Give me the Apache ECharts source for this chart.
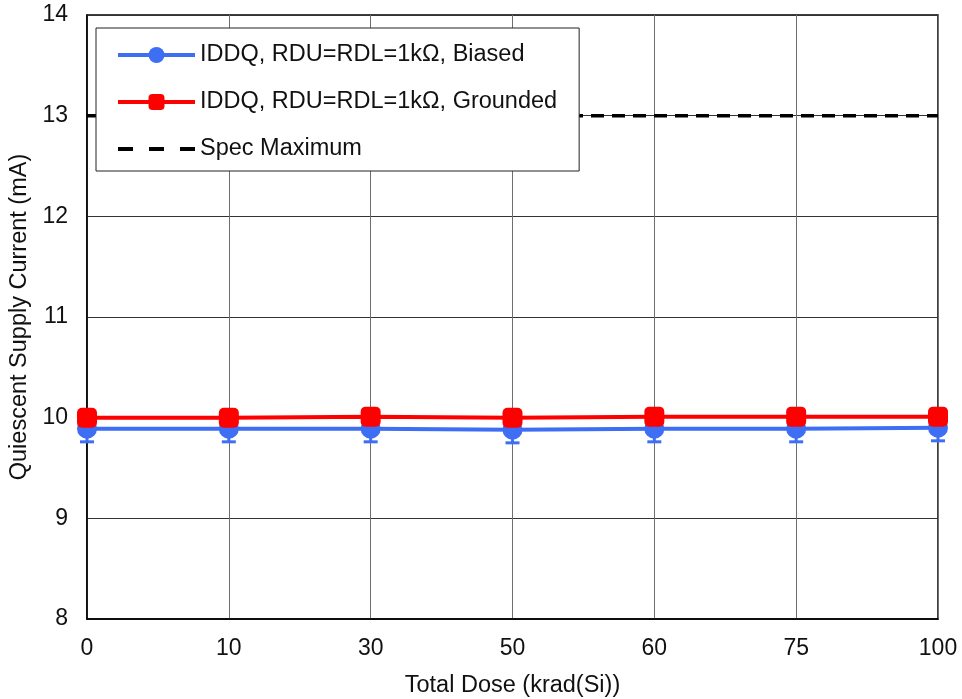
<!DOCTYPE html>
<html>
<head>
<meta charset="utf-8">
<script src="https://cdn.jsdelivr.net/npm/echarts@6/dist/echarts.min.js"></script>
<style>
  html, body { margin: 0; padding: 0; background: #fff; }
  #chart { width: 962px; height: 699px; }
</style>
</head>
<body>
<div id="chart"></div>
<script>
// Total dose steps (krad(Si)), plotted as evenly spaced categories
const doses = ['0', '10', '30', '50', '60', '75', '100'];
// Quiescent supply current (mA)
const biased = [9.89, 9.89, 9.89, 9.88, 9.89, 9.89, 9.90];
const grounded = [10.00, 10.00, 10.01, 10.00, 10.01, 10.01, 10.01];
// Spread of the biased units (± mA)
const biasedErr = [0.13, 0.13, 0.13, 0.13, 0.13, 0.13, 0.13];
// Datasheet limit (mA)
const specMax = 13;

const names = [
  'IDDQ, RDU=RDL=1k\u03A9, Biased',
  'IDDQ, RDU=RDL=1k\u03A9, Grounded',
  'Spec Maximum'
];
const blue = '#3D6EF4';
const red = '#FF0000';
const font = 'Liberation Sans, Arial, sans-serif';

const errData = biased.map((v, i) => [i, v - biasedErr[i], v + biasedErr[i]]);

const chart = echarts.init(document.getElementById('chart'));
chart.setOption({
  animation: false,
  backgroundColor: '#fff',
  grid: {
    left: 87, right: 24, top: 15, bottom: 80,
    outerBoundsMode: 'none',
    show: true, borderColor: '#000', borderWidth: 1.5, backgroundColor: 'transparent'
  },
  legend: {
    orient: 'vertical',
    left: 96, top: 28,
    padding: [15, 22, 10, 20],
    itemWidth: 77, itemHeight: 20, itemGap: 23,
    backgroundColor: '#fff',
    borderColor: '#222', borderWidth: 1,
    textStyle: { fontFamily: font, fontSize: 23.5, color: '#111' },
    data: [
      { name: names[0], lineStyle: { width: 4 } },
      { name: names[1], lineStyle: { width: 4 } },
      { name: names[2], lineStyle: { width: 4, type: [15, 16] }, itemStyle: { opacity: 0 } }
    ]
  },
  xAxis: {
    type: 'category',
    data: doses,
    boundaryGap: false,
    name: 'Total Dose (krad(Si))',
    nameLocation: 'middle',
    nameGap: 55,
    nameTextStyle: { fontFamily: font, fontSize: 23.5, color: '#111' },
    axisLine: { lineStyle: { color: '#000', width: 1.5 } },
    axisTick: { show: false },
    axisLabel: { margin: 18, fontFamily: font, fontSize: 23, color: '#111' },
    splitLine: { show: true, lineStyle: { color: '#6e6e6e', width: 1 } }
  },
  yAxis: {
    type: 'value',
    min: 8, max: 14, interval: 1,
    name: 'Quiescent Supply Current (mA)',
    nameLocation: 'middle',
    nameGap: 54,
    nameTextStyle: { fontFamily: font, fontSize: 23.5, color: '#111' },
    axisLine: { show: true, lineStyle: { color: '#000', width: 1.5 } },
    axisTick: { show: false },
    axisLabel: { margin: 19, fontFamily: font, fontSize: 23, color: '#111' },
    splitLine: { show: true, lineStyle: { color: '#333', width: 1 } }
  },
  series: [
    {
      name: names[2],
      type: 'line',
      data: doses.map(() => specMax),
      symbol: 'none',
      z: 1,
      color: '#000',
      lineStyle: { color: '#000', width: 3.5, type: [13, 8] }
    },
    {
      name: 'biasedErr',
      type: 'custom',
      z: 2,
      data: errData,
      renderItem: function (params, api) {
        const x = api.value(0);
        const lo = api.coord([x, api.value(1)]);
        const hi = api.coord([x, api.value(2)]);
        const cap = 7;
        const style = { stroke: blue, lineWidth: 3 };
        return {
          type: 'group',
          children: [
            { type: 'line', shape: { x1: lo[0], y1: lo[1], x2: hi[0], y2: hi[1] }, style },
            { type: 'line', shape: { x1: lo[0] - cap, y1: lo[1], x2: lo[0] + cap, y2: lo[1] }, style },
            { type: 'line', shape: { x1: hi[0] - cap, y1: hi[1], x2: hi[0] + cap, y2: hi[1] }, style }
          ]
        };
      }
    },
    {
      name: names[0],
      type: 'line',
      data: biased,
      z: 3,
      color: blue,
      symbol: 'circle',
      symbolSize: 20,
      lineStyle: { color: blue, width: 4 },
      itemStyle: { color: blue }
    },
    {
      name: names[1],
      type: 'line',
      data: grounded,
      z: 4,
      color: red,
      symbol: 'roundRect',
      symbolSize: 20,
      lineStyle: { color: red, width: 4 },
      itemStyle: { color: red }
    }
  ]
});
</script>
</body>
</html>
